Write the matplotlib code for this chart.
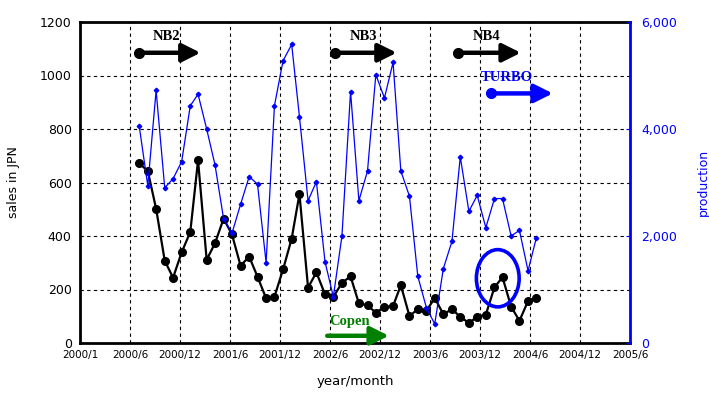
import numpy as np
import matplotlib
matplotlib.use("Agg")
import matplotlib.pyplot as plt
from matplotlib.patches import Ellipse

# monthly data, 2000/8 .. 2004/7
start_month = "2000-08"
sales = [672, 643, 502, 308, 244, 339, 415, 683, 311, 373, 465, 406,
         289, 323, 248, 167, 173, 275, 390, 557, 207, 264, 182, 172,
         225, 249, 148, 141, 113, 135, 138, 216, 101, 126, 120, 168,
         108, 126, 98, 75, 98, 106, 208, 246, 136, 83, 157, 168]
production = [4060, 2940, 4720, 2900, 3070, 3390, 4435, 4650, 4000, 3330, 2320, 2050,
              2590, 3110, 2970, 1500, 4435, 5275, 5580, 4230, 2660, 3015, 1520, 865,
              2000, 4700, 2660, 3215, 5015, 4580, 5245, 3215, 2745, 1250, 660, 355,
              1390, 1900, 3480, 2460, 2760, 2155, 2700, 2700, 2000, 2105, 1350, 1970]
tick_labels = ["2000/1", "2000/6", "2000/12", "2001/6", "2001/12", "2002/6",
               "2002/12", "2003/6", "2003/12", "2004/6", "2004/12", "2005/6"]

# x as days since 2000/1/1 (ticks every 180 days, like the original date axis)
origin = np.datetime64("2000-01-01")
months = np.arange(np.datetime64(start_month), np.datetime64(start_month) + len(sales))
x = (months.astype("datetime64[D]") - origin).astype(float)
ticks = np.arange(len(tick_labels)) * 180

fig = plt.figure(figsize=(7.09, 3.99), dpi=100)
fig.subplots_adjust(left=80/709, right=630/709, top=1-22/399, bottom=1-343/399)
ax = fig.add_subplot(111)
ax2 = ax.twinx()

ax.plot(x, sales, color="black", lw=1.6, marker="o", ms=5.5, zorder=3)
ax2.plot(x, production, color="#0000ff", lw=0.9, marker="D", ms=2.3, zorder=3)

ax.set_xlim(0, ticks[-1])
ax.set_ylim(0, 1200)
ax2.set_ylim(0, 6000)
ax.set_xticks(ticks)
ax.set_xticklabels(tick_labels, fontsize=7.5)
ax.set_yticks(np.arange(0, 1201, 200))
ax.tick_params(axis="both", length=0, labelsize=9, pad=6)
ax.tick_params(axis="x", labelsize=7.5, pad=5)
ax.grid(True, color="black", ls=(0, (3, 3)), lw=0.8)
ax.set_axisbelow(True)

ax2.set_yticks([0, 2000, 4000, 6000])
ax2.set_yticklabels(["0", "2,000", "4,000", "6,000"])
ax2.tick_params(axis="y", direction="in", length=3, color="#0000ff",
                labelcolor="#0000ff", labelsize=9, pad=8)

for s in ["left", "bottom", "top"]:
    ax.spines[s].set_linewidth(2)
ax.spines["right"].set_visible(False)
for s in ["left", "bottom", "top"]:
    ax2.spines[s].set_visible(False)
ax2.spines["right"].set_color("#0000ff")
ax2.spines["right"].set_linewidth(2)

ax.set_ylabel("sales in JPN", fontsize=9, labelpad=14)
ax.set_xlabel("year/month", fontsize=9.5, labelpad=11)
ax2.set_ylabel("production", fontsize=9, color="#0000ff", labelpad=14)

# model annotations (drawn on the right-hand axis so they sit on top)
serif = "Liberation Serif"
# name, arrow start, arrow tip, arrow y, label x, label y, colour, dot
models = [("NB2", 212, 434, 5425, 313, 5720, "black", True),
          ("NB3", 918, 1140, 5425, 1022, 5720, "black", True),
          ("NB4", 1362, 1587, 5425, 1464, 5720, "black", True),
          ("TURBO", 1478, 1702, 4665, 1536, 4965, "#0000ff", True),
          ("Copen", 890, 1112, 135, 972, 398, "green", False)]
for name, x0, x1, yy, tx, ty, col, dot in models:
    ax2.annotate("", xy=(x1, yy), xytext=(x0, yy),
                 arrowprops=dict(arrowstyle="-|>,head_length=1.1,head_width=0.55",
                                 lw=3.2, color=col, shrinkA=0, shrinkB=0), zorder=5)
    if dot:
        ax2.plot(x0, yy, "o", color=col, ms=7, zorder=5)
    ax2.text(tx, ty, name, color=col, family=serif, weight="bold",
             fontsize=10.5, ha="center", va="center", zorder=5)

ax2.add_patch(Ellipse((1504, 1210), 154, 1070, fill=False, ec="#0000ff", lw=2.6, zorder=6))

fig.savefig("out.png", dpi=100)
